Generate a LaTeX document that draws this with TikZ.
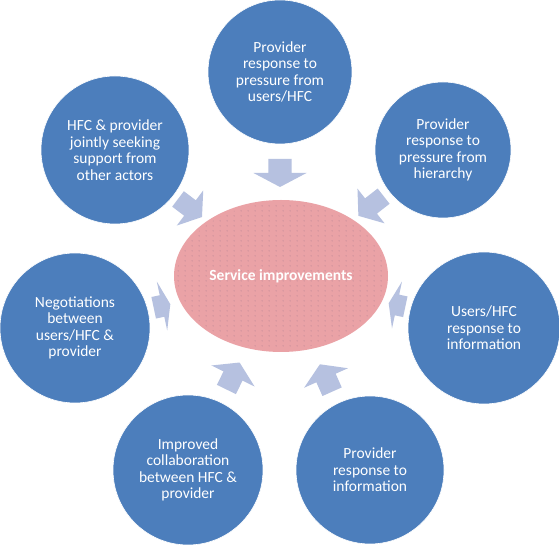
\documentclass[tikz,border=0pt]{standalone}
\usepackage{fontspec}
\setmainfont{Carlito}
\usetikzlibrary{patterns.meta}
\definecolor{circblue}{HTML}{4C7EBC}
\definecolor{ellpink}{HTML}{EAA2A6}
\definecolor{dotcol}{HTML}{6E5A78}
\definecolor{arrowcol}{HTML}{B6C1E0}
\tikzdeclarepattern{
  name=sdots,
  type=uncolored,
  bounding box={(0,0) and (7pt,5pt)},
  tile size={(7pt,5pt)},
  code={\fill (3.5pt,2.5pt) circle (0.45pt);}
}
\tikzset{
  bubble/.style={circle, fill=circblue, draw=white, line width=0.6pt, text=white,
    align=center, font=\fontsize{15.5}{16.5}\selectfont, inner sep=0pt},
  arrowfill/.style={fill=arrowcol},
}
\newcommand\myblockarrow[5]{%
  \begin{scope}[shift={(#1,#2)},rotate=#3]
    \fill[arrowfill] ({-#4/2},{0.22*#5}) -- (0,{0.22*#5}) -- (0,{#5/2}) -- ({#4/2},0)
      -- (0,{-#5/2}) -- (0,{-0.22*#5}) -- ({-#4/2},{-0.22*#5}) -- cycle;
  \end{scope}}
\begin{document}
\begin{tikzpicture}[x=1pt,y=1pt]
\useasboundingbox (0,0) rectangle (559,548);
\fill[white] (0,0) rectangle (559,548);

% central ellipse
\fill[ellpink] (281,272) ellipse [x radius=107, y radius=76];
\fill[pattern=sdots, pattern color=dotcol] (281,272) ellipse [x radius=104, y radius=73];
\node[text=white, font=\fontsize{15.5}{16.5}\selectfont\bfseries] (center) at (281,272) {Service improvements};

% circles
\node[bubble, minimum size=144pt] (c1) at (280,476) {Provider\\response to\\pressure from\\users/HFC};
\node[bubble, minimum size=136pt] (c2) at (443,398) {Provider\\response to\\pressure from\\hierarchy};
\node[bubble, minimum size=152pt] (c3) at (484,220) {Users/HFC\\response to\\information};
\node[bubble, minimum size=148pt] (c4) at (370,78) {Provider\\response to\\information};
\node[bubble, minimum size=150pt] (c5) at (188,78) {Improved\\collaboration\\between HFC \&\\provider};
\node[bubble, minimum size=150pt] (c6) at (75,220) {Negotiations\\between\\users/HFC \&\\provider};
\node[bubble, minimum size=148pt] (c7) at (115,398) {HFC \& provider\\jointly seeking\\support from\\other actors};

% block arrows pointing to the centre
\myblockarrow{280}{375}{-90}{28}{53}
\myblockarrow{371}{342}{218}{32}{44}
\myblockarrow{397}{243}{168}{17}{48}
\myblockarrow{326}{170}{114}{30}{48}
\myblockarrow{233}{172}{64}{30}{48}
\myblockarrow{162}{242}{12}{17}{50}
\myblockarrow{190}{340}{-37}{30}{44}
\end{tikzpicture}
\end{document}
